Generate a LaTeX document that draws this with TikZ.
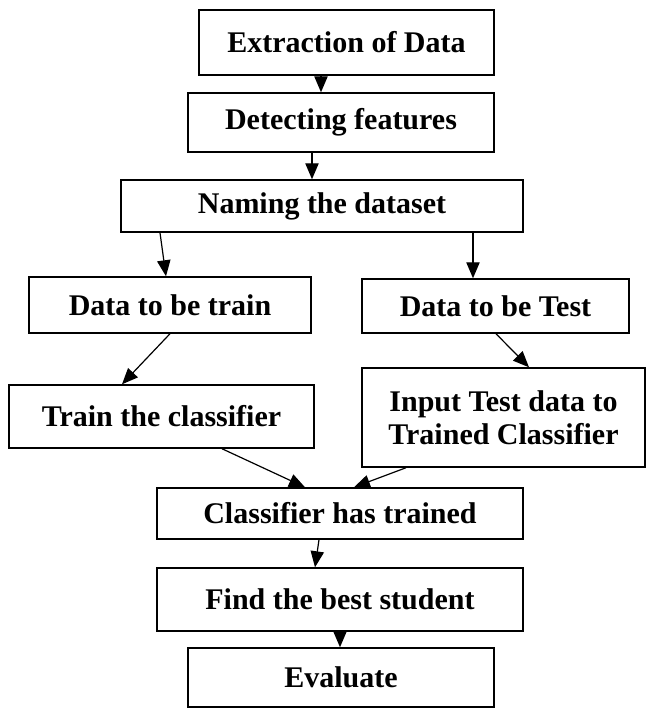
\documentclass[tikz,border=0pt]{standalone}
\usepackage{fontspec}
\setmainfont{Liberation Serif}
\usetikzlibrary{arrows.meta,calc}
\begin{document}
\begin{tikzpicture}[x=0.75pt,y=-0.75pt,font=\bfseries\fontsize{22.5pt}{25pt}\selectfont,
box/.style={draw,line width=1.1pt,shape=rectangle,inner sep=0pt,align=center},
arr/.style={line width=0.9pt,-{Triangle[length=12pt,width=10pt]}}]
\useasboundingbox (0,0) rectangle (646,708);
\path (346.5,42.5) node(extract) [box,minimum width=221.25pt,minimum height=48.75pt] {Extraction of Data};
\path (341,122.5) node(detect) [box,minimum width=229.5pt,minimum height=44.25pt] {Detecting features};
\path (322,206) node(naming) [box,minimum width=301.5pt,minimum height=39pt] {Naming the dataset};
\path (170,305) node(traindata) [box,minimum width=211.5pt,minimum height=42pt] {Data to be train};
\path (495.5,306) node(testdata) [box,minimum width=200.25pt,minimum height=40.5pt] {Data to be Test};
\path (161.5,416.5) node(trainclf) [box,minimum width=228.75pt,minimum height=47.25pt] {Train the classifier};
\path (503.5,417.5) node(inputtest) [box,minimum width=212.25pt,minimum height=74.25pt] {Input Test data to\\Trained Classifier};
\path (340,513.5) node(trained) [box,minimum width=274.5pt,minimum height=38.25pt] {Classifier has trained};
\path (340,599.5) node(best) [box,minimum width=274.5pt,minimum height=47.25pt] {Find the best student};
\path (341,677.5) node(evaluate) [box,minimum width=229.5pt,minimum height=44.25pt] {Evaluate};
\draw[arr] ($(extract.south)+(-25.5,0)$) -- ($(detect.north)+(-20,0)$);
\draw[arr] ($(detect.south)+(-29,0)$) -- ($(naming.north)+(-10,0)$);
\draw[arr] ($(naming.south)+(-162,0)$) -- ($(traindata.north)+(-4,0)$);
\draw[arr] ($(naming.south)+(151,0)$) -- ($(testdata.north)+(-22.5,0)$);
\draw[arr] (traindata.south) -- ($(trainclf.north)+(-39.5,0)$);
\draw[arr] ($(testdata.south)+(0.5,0)$) -- ($(inputtest.north)+(25.5,0)$);
\draw[arr] ($(trainclf.south)+(60.5,0)$) -- ($(trained.north)+(-35,0)$);
\draw[arr] ($(inputtest.south)+(-97.5,0)$) -- ($(trained.north)+(14,0)$);
\draw[arr] ($(trained.south)+(-21,0)$) -- ($(best.north)+(-25,0)$);
\draw[arr] (best.south) -- ($(evaluate.north)+(-1,0)$);
\end{tikzpicture}
\end{document}
